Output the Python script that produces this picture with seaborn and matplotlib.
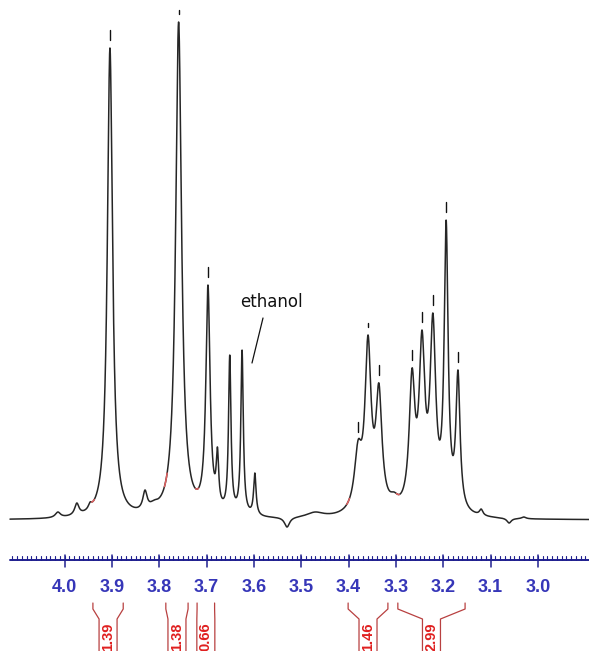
import numpy as np
import pandas as pd
import matplotlib
matplotlib.use("Agg")
import matplotlib.pyplot as plt
import seaborn as sns

# ---------------- data ----------------
# peak positions (ppm), apex heights above baseline (px units) and half widths (ppm)
peak_ppm = [4.014, 3.974, 3.946, 3.904, 3.830, 3.811, 3.759, 3.697, 3.677, 3.651,
            3.625, 3.598, 3.530, 3.471, 3.380, 3.359, 3.336, 3.304, 3.266, 3.245,
            3.222, 3.194, 3.169, 3.120, 3.061, 3.030]
peak_height = [8, 17, 18, 472, 30, 20, 498, 235, 73, 165,
               170, 47, -7, 8, 80, 185, 137, 28, 152, 190,
               207, 300, 150, 11, -3, 3]
peak_width = [0.0066, 0.0055, 0.0044, 0.0066, 0.0055, 0.011, 0.0075, 0.0053, 0.0031, 0.0031,
              0.0031, 0.0031, 0.0066, 0.022, 0.0094, 0.0077, 0.0077, 0.011, 0.0072, 0.0072,
              0.0072, 0.0050, 0.0052, 0.0044, 0.0055, 0.0055]

picked_ppm = [3.904, 3.759, 3.697, 3.380, 3.359, 3.336, 3.266, 3.245, 3.222, 3.194, 3.169]
short_marks = [3.759, 3.359]

tick_values = [4.0, 3.9, 3.8, 3.7, 3.6, 3.5, 3.4, 3.3, 3.2, 3.1, 3.0]
tick_labels = ["4.0", "3.9", "3.8", "3.7", "3.6", "3.5", "3.4", "3.3", "3.2", "3.1", "3.0"]

integral_labels = ["1.39", "1.38", "0.66", "1.46", "2.99"]
integral_start = [3.940, 3.786, 3.720, 3.401, 3.296]
integral_end = [3.876, 3.739, 3.683, 3.317, 3.154]

annotation_text = "ethanol"

# ---------------- layout helpers (pixel geometry) ----------------
W, H = 589, 651
X0 = 64.5            # pixel x of 4.0 ppm
PX_PER_PPM = 473.5
BASE = 520           # pixel row of spectrum baseline


def ppm_of(px):
    return 4.0 - (px - X0) / PX_PER_PPM


def yd(py):
    return BASE - py


def dppm(dpx):
    return dpx / PX_PER_PPM


sns.set_style("white")
plt.rcParams["font.family"] = ["Liberation Sans", "DejaVu Sans"]

fig = plt.figure(figsize=(W / 100, H / 100), dpi=100)
ax = fig.add_axes([0, 0, 1, 1])
ax.set_xlim(ppm_of(0), ppm_of(W))
ax.set_ylim(yd(H), yd(0))
ax.axis("off")

# ---------------- spectrum ----------------
pos = np.array(peak_ppm)
hgt = np.array(peak_height, dtype=float)
wid = np.array(peak_width)


def lor(x, c, g):
    return 1.0 / (1.0 + ((x - c) / g) ** 2)


M = lor(pos[:, None], pos[None, :], wid[None, :])
amps = np.linalg.solve(M, hgt)

grid = np.linspace(ppm_of(10), ppm_of(W + 2), 5000)
inten = (amps[None, :] * lor(grid[:, None], pos[None, :], wid[None, :])).sum(axis=1)
df = pd.DataFrame({"ppm": grid, "intensity": inten})

sns.lineplot(data=df, x="ppm", y="intensity", ax=ax, color="#262626",
             linewidth=1.1, estimator=None, sort=False)

# red integral start marks on the trace
for s in integral_start:
    m = (grid <= s + 0.003) & (grid >= s - 0.003)
    ax.plot(grid[m], inten[m], color="#e06060", lw=1.1, zorder=4)


def curve_at(p):
    return np.interp(p, grid[::-1], inten[::-1])


# peak-pick markers
for p in picked_ppm:
    top = curve_at(p)
    length = 4 if p in short_marks else 10
    ax.plot([p, p], [top + 8, top + 8 + length], color="#111111", lw=1.0)

# annotation
ax.text(ppm_of(271), yd(302), annotation_text, ha="center", va="center",
        fontsize=12, family=["DejaVu Sans"], color="#111111")
ax.plot([ppm_of(263), ppm_of(252)], [yd(318), yd(363)], color="#111111", lw=0.9)

# ---------------- ruler axis ----------------
axis_col = "#1f1f8f"
ax.plot([ppm_of(10), ppm_of(W)], [yd(560), yd(560)], color=axis_col, lw=1.4)
minor = np.arange(2.89, 4.115, 0.01)
for t in minor:
    ax.plot([t, t], [yd(560), yd(555.5)], color=axis_col, lw=0.8)
for t, lab in zip(tick_values, tick_labels):
    ax.plot([t, t], [yd(555), yd(567)], color=axis_col, lw=1.1)
    ax.text(t, yd(588), lab, ha="center", va="center", fontsize=13,
            fontweight="bold", color="#3636b8")

# ---------------- integrals ----------------
int_col = "#b84040"
half_box = dppm(9)
for lab, s, e in zip(integral_labels, integral_start, integral_end):
    c = (s + e) / 2
    xs_l = [s, s, c + half_box, c + half_box]
    xs_r = [e, e, c - half_box, c - half_box]
    ys = [yd(603), yd(609), yd(619), yd(H + 5)]
    ax.plot(xs_l, ys, color=int_col, lw=0.9)
    ax.plot(xs_r, ys, color=int_col, lw=0.9)
    ax.text(c, yd(637), lab, rotation=90, ha="center", va="center",
            fontsize=10.5, fontweight="bold", color="#e02020")

fig.savefig("out.png", dpi=100, facecolor="white")
